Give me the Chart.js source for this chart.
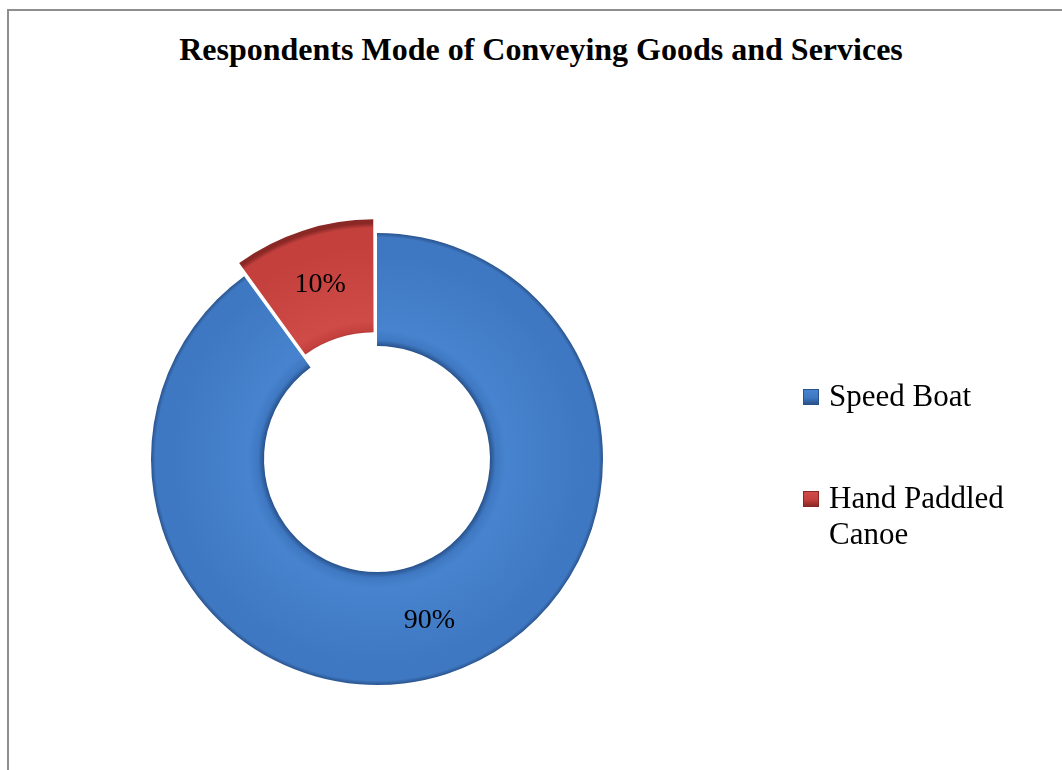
<!DOCTYPE html>
<html>
<head>
<meta charset="utf-8">
<script src="https://cdn.jsdelivr.net/npm/chart.js@4.4.1/dist/chart.umd.min.js"></script>
<style>
  body { margin: 0; background: #fff; }
  #wrap { position: relative; width: 1062px; height: 770px; overflow: hidden; }
  #frame { position: absolute; left: 7px; top: 9px; width: 1100px; height: 800px;
           border-top: 2px solid #8e8e8e; border-left: 2px solid #8e8e8e; }
  #title { position: absolute; left: 0; top: 33px; width: 1082px; text-align: center;
           font: bold 32px/32px "Liberation Serif", "Times New Roman", serif; color: #000; }
  #chart { position: absolute; left: 0; top: 0; }
  .leg { position: absolute; left: 803px; width: 230px;
         font: 31px/36px "Liberation Serif", "Times New Roman", serif; color: #000; }
  .leg .box { position: absolute; left: 0; top: 11px; width: 16px; height: 16px; box-sizing: border-box; }
  .leg .txt { margin-left: 26px; width: 195px; }
</style>
</head>
<body>
<div id="wrap">
  <div id="frame"></div>
  <div id="title"></div>
  <canvas id="chart" width="1062" height="770"></canvas>
  <div id="legend"></div>
</div>
<script>
// — data —
const chartTitle = 'Respondents Mode of Conveying Goods and Services';
const labels = ['Speed Boat', 'Hand Paddled Canoe'];
const values = [90, 10];
const explode = [0, 40];   // chart.js offset (it moves the slice by about a quarter of this)
const baseColors = ['#3f78c2', '#c3403d'];
const edgeColors = ['#28528c', '#8a2826'];
const lightColors = ['#4783cf', '#cf4b48'];
const legendTops = [378, 480];

document.getElementById('title').textContent = chartTitle;

// — legend (html, so the long label can wrap) —
const leg = document.getElementById('legend');
labels.forEach((lab, i) => {
  const d = document.createElement('div');
  d.className = 'leg';
  d.style.top = legendTops[i] + 'px';
  const b = document.createElement('div');
  b.className = 'box';
  b.style.background = 'linear-gradient(180deg,' + lightColors[i] + ' 0%,' + baseColors[i] + ' 55%,' + edgeColors[i] + ' 100%)';
  b.style.border = '1px solid ' + edgeColors[i];
  const t = document.createElement('div');
  t.className = 'txt';
  t.textContent = lab;
  d.appendChild(b);
  d.appendChild(t);
  leg.appendChild(d);
});

// — bevel-like radial fill —
function ringFill(ctx) {
  const chart = ctx.chart;
  const i = ctx.dataIndex;
  const area = chart.chartArea;
  if (!area) return baseColors[i];
  const el = chart.getDatasetMeta(0).data[i];
  if (!el || !el.outerRadius) return baseColors[i];
  const cx = (area.left + area.right) / 2;
  const cy = (area.top + area.bottom) / 2;
  const ro = el.outerRadius + 6, ri = el.innerRadius;
  const k = ri / ro;
  const g = chart.ctx.createRadialGradient(cx, cy, 0, cx, cy, ro);
  g.addColorStop(k, edgeColors[i]);
  g.addColorStop(k + 0.025, baseColors[i]);
  g.addColorStop(k + 0.07, lightColors[i]);
  g.addColorStop(0.88, baseColors[i]);
  g.addColorStop(0.955, baseColors[i]);
  g.addColorStop(0.975, edgeColors[i]);
  g.addColorStop(1, edgeColors[i]);
  return g;
}

// — percent labels on the slices —
const pctLabels = {
  id: 'pctLabels',
  afterDatasetsDraw(chart) {
    const ctx = chart.ctx;
    const total = values.reduce((a, b) => a + b, 0);
    chart.getDatasetMeta(0).data.forEach((el, i) => {
      const p = el.getProps(['x', 'y', 'startAngle', 'endAngle', 'innerRadius', 'outerRadius', 'circumference'], true);
      const mid = (p.startAngle + p.endAngle) / 2;
      const t = explode[i] / 4;
      const shift = t + t * (1 - Math.sin(Math.min(Math.PI, p.circumference)));
      const r = (p.innerRadius + p.outerRadius) / 2 + shift;
      ctx.save();
      ctx.font = '28px "Liberation Serif", "Times New Roman", serif';
      ctx.fillStyle = '#000';
      ctx.textAlign = 'center';
      ctx.textBaseline = 'middle';
      ctx.fillText(Math.round(values[i] / total * 100) + '%', p.x + Math.cos(mid) * r, p.y + Math.sin(mid) * r);
      ctx.restore();
    });
  }
};

const chart = new Chart(document.getElementById('chart'), {
  type: 'doughnut',
  data: {
    labels: labels,
    datasets: [{
      data: values,
      backgroundColor: ringFill,
      borderWidth: 0,
      offset: explode,
      hoverOffset: 0
    }]
  },
  options: {
    responsive: false,
    animation: false,
    cutout: '50%',
    layout: { padding: { left: 131, top: 213, right: 439, bottom: 65 } },
    plugins: {
      legend: { display: false },
      title: { display: false },
      tooltip: { enabled: false }
    }
  },
  plugins: [pctLabels]
});
chart.update();
</script>
</body>
</html>
